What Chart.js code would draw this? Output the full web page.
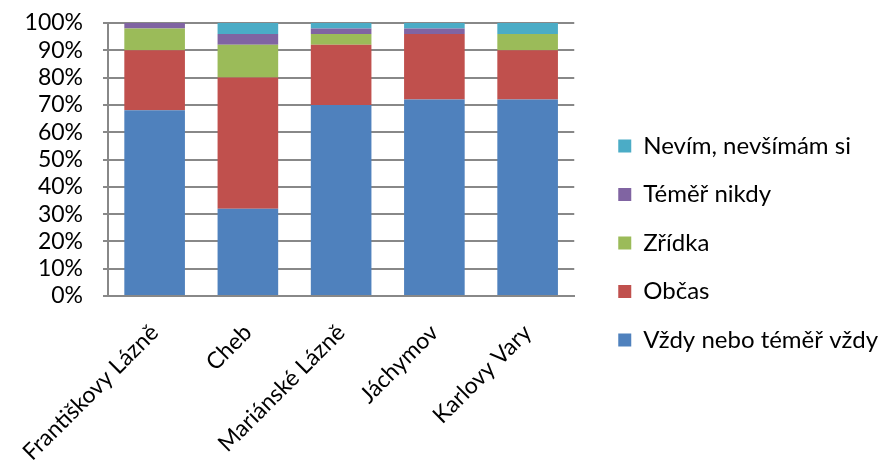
<!DOCTYPE html>
<html><head><meta charset="utf-8">
<script src="https://cdn.jsdelivr.net/npm/chart.js@4/dist/chart.umd.min.js"></script>
<style>html,body{margin:0;padding:0;background:#fff}#w{width:882px;height:465px}</style>
</head><body><div id="w"><canvas id="c"></canvas></div>
<script>
const categories = ["Františkovy Lázně", "Cheb", "Mariánské Lázně", "Jáchymov", "Karlovy Vary"];
const seriesNames = ["Vždy nebo téměř vždy", "Občas", "Zřídka", "Téměř nikdy", "Nevím, nevšímám si"];
const vzdy = [68, 32, 70, 72, 72];
const obcas = [22, 48, 22, 24, 18];
const zridka = [8, 12, 4, 0, 6];
const temerNikdy = [2, 4, 2, 2, 0];
const nevim = [0, 4, 2, 2, 4];
const yTicks = [0, 10, 20, 30, 40, 50, 60, 70, 80, 90, 100];
const colors = ["#4F81BD", "#C0504D", "#9BBB59", "#8064A2", "#4BACC6"];
const seriesValues = [vzdy, obcas, zridka, temerNikdy, nevim];

const FONT = "Lato, 'Open Sans', sans-serif";
const FS = 23;
const legendShift = { x: 19.5, y: -1 };
const shiftLegend = {
  id: 'shiftLegend',
  afterLayout(chart) {
    const lg = chart.legend;
    if (lg) { lg.left += legendShift.x; lg.right += legendShift.x; lg.top += legendShift.y; lg.bottom += legendShift.y; }
  }
};
new Chart(document.getElementById('c'), {
  type: 'bar',
  data: {
    labels: categories,
    datasets: seriesNames.map((n, i) => ({
      label: n, data: seriesValues[i], backgroundColor: colors[i],
      borderWidth: 0, categoryPercentage: 1, barPercentage: 0.65
    }))
  },
  plugins: [shiftLegend],
  options: {
    responsive: true, maintainAspectRatio: false, animation: false,
    layout: { padding: { left: 0, right: 13.5, top: 23, bottom: 0 } },
    plugins: {
      legend: {
        position: 'right', reverse: true, maxWidth: 400,
        labels: { font: { family: FONT, size: 24 }, color: '#000', boxWidth: 13, boxHeight: 13, padding: 24.5 }
      },
      tooltip: { enabled: false }
    },
    scales: {
      x: {
        stacked: true,
        afterFit: s => { s.height = 169; s.paddingLeft = 0; s.paddingRight = 0; },
        grid: { display: false },
        border: { color: '#888', width: 2 },
        ticks: { font: { family: FONT, size: FS }, color: '#000', maxRotation: 45, minRotation: 45, padding: 15, autoSkip: false }
      },
      y: {
        stacked: true, min: 0, max: 100,
        afterFit: s => { s.width = 108; s.paddingTop = 10; s.paddingBottom = 0; },
        afterBuildTicks: ax => { ax.ticks = yTicks.map(v => ({ value: v })); },
        grid: { color: '#888', lineWidth: 2, tickLength: 5 },
        border: { color: '#888', width: 2 },
        ticks: { font: { family: FONT, size: FS }, color: '#000', padding: 20, autoSkip: false, callback: v => v + '%' }
      }
    }
  }
});
</script></body></html>
